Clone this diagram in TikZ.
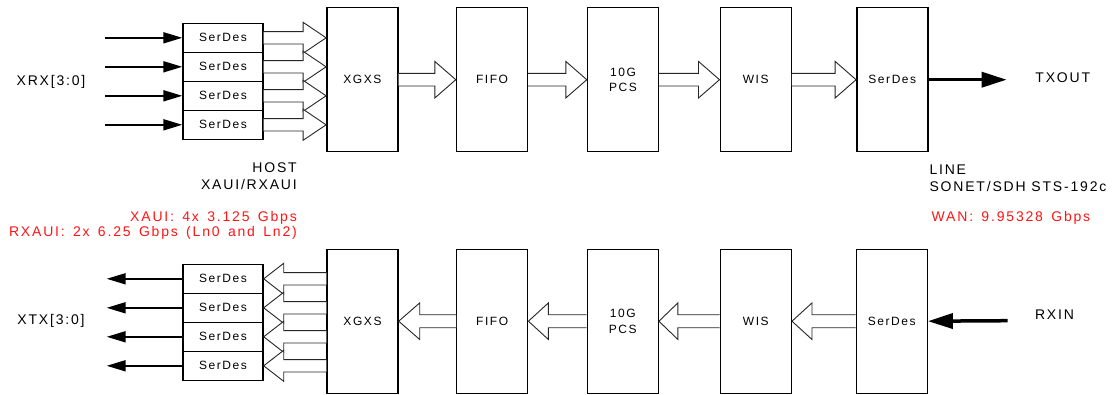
\documentclass[tikz,border=0pt]{standalone}
\usepackage{fontspec}
\setmainfont{Liberation Sans}[LetterSpace=13]
\usetikzlibrary{calc,arrows.meta}
\definecolor{txtred}{RGB}{255,20,20}
\tikzset{
  blk/.style={draw, line width=1.4pt, minimum width=71pt, minimum height=144pt, inner sep=0pt, align=center, font=\fontsize{12}{15.6}\selectfont},
  sd/.style={draw, line width=1.4pt, minimum width=80pt, minimum height=29pt, inner sep=0pt, font=\fontsize{12}{14}\selectfont},
  lbl/.style={inner sep=0pt, font=\fontsize{14}{17}\selectfont},
  redlbl/.style={inner sep=0pt, text=txtred, font={\fontsize{14}{17}\selectfont\spaceskip=8.3pt\relax}},
  hollow/.style={draw=black!85, fill=white, line width=0.9pt, line join=miter},
  lane/.style={line width=1.8pt, -{Triangle[length=19pt,width=11pt]}},
  serial/.style={line width=3.5pt, -{Triangle[length=25pt,width=15pt]}},
}
% hollow arrow pointing right: from #1 to #2, head length #3, head half #4, shaft half #5
\newcommand{\hollowR}[5]{%
  \draw[hollow] ($(#1)+(0,#5)$) -- ($(#2)+(-#3,#5)$) -- ($(#2)+(-#3,#4)$) -- (#2)
    -- ($(#2)+(-#3,-#4)$) -- ($(#2)+(-#3,-#5)$) -- ($(#1)+(0,-#5)$);}
% hollow arrow pointing left
\newcommand{\hollowL}[5]{%
  \draw[hollow] ($(#1)+(0,#5)$) -- ($(#2)+(#3,#5)$) -- ($(#2)+(#3,#4)$) -- (#2)
    -- ($(#2)+(#3,-#4)$) -- ($(#2)+(#3,-#5)$) -- ($(#1)+(0,-#5)$);}
\begin{document}
\begin{tikzpicture}[x=1pt,y=-1pt]
\useasboundingbox (0,0) rectangle (1112,394);
% ---------------- top (transmit) row
\node[blk] (txgxs) at (362.3,79.7) {XGXS};
\node[blk] (tfifo) at (492,79.7) {FIFO};
\node[blk] (tpcs)  at (623,79.7) {10G\\PCS};
\node[blk] (twis)  at (755.7,79.7) {WIS};
\node[blk] (tser)  at (892.3,79.7) {SerDes};
\foreach \i/\y in {1/37.8,2/66.8,3/95.8,4/124.8}{
  \node[sd] (ts\i) at (223,\y) {SerDes};
  \coordinate (tin\i) at (105,\y);
  \coordinate (tx\i) at (ts\i.east -| txgxs.west);
}
\foreach \i in {1,...,4}{
  \draw[lane] (tin\i) -- (ts\i.west);
}
\foreach \i in {1,...,4}{
  \hollowR{ts\i.east}{tx\i}{23}{15.5}{6.2}
}
\hollowR{txgxs.east}{tfifo.west}{21}{18.3}{6.3}
\hollowR{tfifo.east}{tpcs.west}{21}{18.3}{6.3}
\hollowR{tpcs.east}{twis.west}{21}{18.3}{6.3}
\hollowR{twis.east}{tser.west}{21}{18.3}{6.3}
\coordinate (txout) at (1006.7,79.7);
\draw[serial] (tser.east) -- (txout);
\node[lbl] (xrx) at (51,81.7) {XRX[3:0]};
\node[lbl] (txo) at (1062.8,78) {TXOUT};
% ---------------- labels between rows
\node[lbl, anchor=base east] (host) at (297,172.3) {HOST};
\node[lbl, anchor=base east] (xaui) at (297,189.3) {XAUI/RXAUI};
\node[redlbl, anchor=base east] (r1) at (297,221) {XAUI: 4x 3.125 Gbps};
\node[redlbl, anchor=base east] (r2) at (297,236.7) {RXAUI: 2x 6.25 Gbps (Ln0 and Ln2)};
\node[lbl, anchor=base west] (line) at (929.3,174) {LINE};
\node[lbl, anchor=base west] (sonet) at (929.3,191) {SONET/SDH STS-192c};
\node[redlbl, anchor=base west] (wan) at (931.5,221) {WAN: 9.95328 Gbps};
% ---------------- bottom (receive) row
\node[blk] (bxgxs) at (362.5,321.2) {XGXS};
\node[blk] (bfifo) at (492.2,321.2) {FIFO};
\node[blk] (bpcs)  at (622.7,321.2) {10G\\PCS};
\node[blk] (bwis)  at (755.8,321.2) {WIS};
\node[blk] (bser)  at (891.7,321.2) {SerDes};
\foreach \i/\y in {1/278.8,2/307.8,3/336.8,4/365.8}{
  \node[sd] (bs\i) at (223,\y) {SerDes};
  \coordinate (bout\i) at (106.7,\y);
  \coordinate (bx\i) at (bs\i.east -| bxgxs.west);
}
\foreach \i in {1,...,4}{
  \draw[lane] (bs\i.west) -- (bout\i);
}
\foreach \i in {1,...,4}{
  \hollowL{bx\i}{bs\i.east}{20}{15.5}{6.2}
}
\hollowL{bfifo.west}{bxgxs.east}{21}{18.3}{6.5}
\hollowL{bpcs.west}{bfifo.east}{20}{18.3}{6.5}
\hollowL{bwis.west}{bpcs.east}{19}{18.3}{6.5}
\hollowL{bser.west}{bwis.east}{20}{18.3}{6.5}
\coordinate (rxin) at (1007.7,320.7);
\draw[serial] (rxin) -- (bser.east);
\node[lbl] (xtx) at (51,321) {XTX[3:0]};
\node[lbl] (rxi) at (1054.5,315) {RXIN};
\end{tikzpicture}
\end{document}
